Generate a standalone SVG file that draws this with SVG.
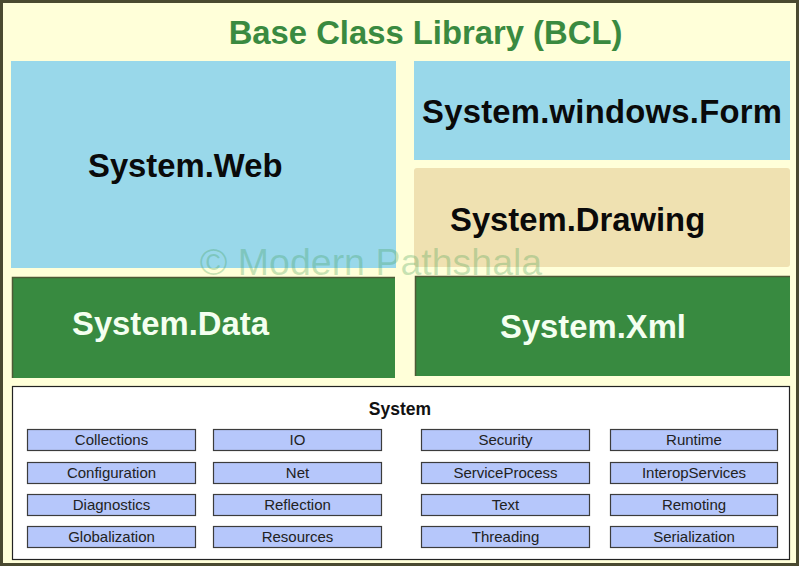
<svg xmlns="http://www.w3.org/2000/svg" width="799" height="566" viewBox="0 0 799 566">
<style>
.lbl{font-family:"Liberation Sans",Arial,sans-serif;font-weight:bold;font-size:32.8px}
.dark{fill:#0a0a0a}
.light{fill:#f4fff0}
.item rect{fill:#b6c7fb;stroke:#3c3c3c;stroke-width:1.2}
.item text{font-family:"Liberation Sans",Arial,sans-serif;font-size:15px;fill:#222;text-anchor:middle}
</style>
<rect x="1.5" y="1.5" width="796" height="563" fill="#ffffd9" stroke="#4a4a30" stroke-width="3"/>
<text x="425.5" y="44" font-family="Liberation Sans,Arial,sans-serif" font-weight="bold" font-size="32.8" fill="#3a8a40" text-anchor="middle">Base Class Library (BCL)</text>
<g id="web"><rect x="11" y="61" width="385" height="207" fill="#99d8ea"/><text class="lbl dark" x="88" y="177">System.Web</text></g>
<g id="forms"><rect x="414" y="61" width="376" height="99" fill="#99d8ea"/><text class="lbl dark" x="422" y="123" textLength="360">System.windows.Form</text></g>
<g id="drawing"><rect x="414" y="168" width="376" height="99" rx="3" fill="#efe1b1"/><text class="lbl dark" x="450" y="231">System.Drawing</text></g>
<g id="data"><rect x="12" y="277" width="383" height="101" fill="#388a40"/><path d="M12.5 378V277.5H395" fill="none" stroke="#4e5a36" stroke-width="1.5"/><text class="lbl light" x="72" y="335">System.Data</text></g>
<g id="xml"><rect x="415" y="276" width="375" height="100" fill="#388a40"/><path d="M415.5 376V276.5H790" fill="none" stroke="#4e5a36" stroke-width="1.5"/><text class="lbl light" x="500" y="338">System.Xml</text></g>
<text x="371" y="275" font-family="Liberation Sans,Arial,sans-serif" font-size="37.5" fill="#3a9a50" fill-opacity="0.28" text-anchor="middle">© Modern Pathshala</text>
<g id="system">
<rect x="12.5" y="386.5" width="777" height="173" fill="#ffffff" stroke="#222" stroke-width="1.2"/>
<text x="400" y="415" font-family="Liberation Sans,Arial,sans-serif" font-weight="bold" font-size="17.5" fill="#111" text-anchor="middle">System</text>
</g>
<g id="items">
<g class="item" id="collections"><rect x="27.5" y="429.5" width="168" height="21"/><text x="111.5" y="445">Collections</text></g>
<g class="item" id="configuration"><rect x="27.5" y="462.5" width="168" height="21"/><text x="111.5" y="478">Configuration</text></g>
<g class="item" id="diagnostics"><rect x="27.5" y="494.5" width="168" height="21"/><text x="111.5" y="510">Diagnostics</text></g>
<g class="item" id="globalization"><rect x="27.5" y="526.5" width="168" height="21"/><text x="111.5" y="542">Globalization</text></g>
<g class="item" id="io"><rect x="213.5" y="429.5" width="168" height="21"/><text x="297.5" y="445">IO</text></g>
<g class="item" id="net"><rect x="213.5" y="462.5" width="168" height="21"/><text x="297.5" y="478">Net</text></g>
<g class="item" id="reflection"><rect x="213.5" y="494.5" width="168" height="21"/><text x="297.5" y="510">Reflection</text></g>
<g class="item" id="resources"><rect x="213.5" y="526.5" width="168" height="21"/><text x="297.5" y="542">Resources</text></g>
<g class="item" id="security"><rect x="421.5" y="429.5" width="168" height="21"/><text x="505.5" y="445">Security</text></g>
<g class="item" id="serviceprocess"><rect x="421.5" y="462.5" width="168" height="21"/><text x="505.5" y="478">ServiceProcess</text></g>
<g class="item" id="text"><rect x="421.5" y="494.5" width="168" height="21"/><text x="505.5" y="510">Text</text></g>
<g class="item" id="threading"><rect x="421.5" y="526.5" width="168" height="21"/><text x="505.5" y="542">Threading</text></g>
<g class="item" id="runtime"><rect x="610.5" y="429.5" width="167" height="21"/><text x="694" y="445">Runtime</text></g>
<g class="item" id="interop"><rect x="610.5" y="462.5" width="167" height="21"/><text x="694" y="478">InteropServices</text></g>
<g class="item" id="remoting"><rect x="610.5" y="494.5" width="167" height="21"/><text x="694" y="510">Remoting</text></g>
<g class="item" id="serialization"><rect x="610.5" y="526.5" width="167" height="21"/><text x="694" y="542">Serialization</text></g>
</g>
<g id="connectors"></g>
</svg>
